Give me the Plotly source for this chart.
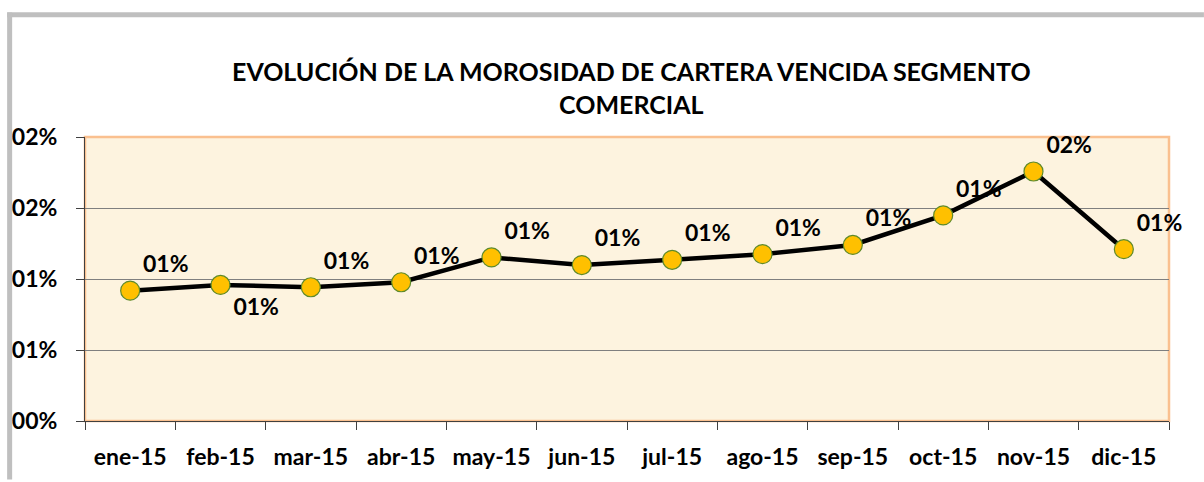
import plotly.graph_objects as go

months = ["ene-15", "feb-15", "mar-15", "abr-15", "may-15", "jun-15",
          "jul-15", "ago-15", "sep-15", "oct-15", "nov-15", "dic-15"]
morosidad = [0.00918, 0.00958, 0.00942, 0.00977, 0.01152, 0.01098,
             0.01135, 0.01175, 0.01240, 0.01448, 0.01757, 0.01210]
label_pos = ["top right", "bottom right", "top right", "top right", "top right", "top right",
             "top right", "top right", "top right", "top right", "top right", "top right"]
y_tickvals = [0, 0.005, 0.01, 0.015, 0.02]
y_ticktext = ["00%", "01%", "01%", "02%", "02%"]
title_text = "EVOLUCIÓN DE LA MOROSIDAD DE CARTERA VENCIDA SEGMENTO<br>COMERCIAL"

labels = [f"{int(v * 100 + 0.5):02d}%" for v in morosidad]

FONT = "Lato"
W, H = 1204, 482
L, R, T, B = 83, 35, 137, 59
pw, ph = W - L - R, H - T - B

def px_x(p):
    return (p - L) / pw

def px_y(p):
    return (H - B - p) / ph

fig = go.Figure()
fig.add_trace(go.Scatter(
    x=months, y=morosidad,
    mode="lines+markers+text",
    line=dict(color="black", width=4.5),
    marker=dict(size=19, color="#FFC000", line=dict(color="#5E8A2A", width=1.2)),
    text=labels, textposition=label_pos,
    textfont=dict(family=FONT, size=23, color="black", weight="bold"),
    cliponaxis=False,
    showlegend=False,
    hoverinfo="skip",
))

frame = dict(color="#BFBFBF", width=5)
fig.update_layout(
    width=W, height=H,
    margin=dict(l=L, r=R, t=T, b=B),
    paper_bgcolor="white",
    plot_bgcolor="#FDF3DF",
    font=dict(family=FONT, color="black"),
    xaxis=dict(
        type="category", tickson="boundaries", ticks="outside", ticklen=8,
        tickcolor="#404040", showline=True, linecolor="#404040", linewidth=1,
        showgrid=False, tickfont=dict(family=FONT, size=23, weight="bold"),
        ticklabelstandoff=15,
        range=[-0.5, 11.5],
    ),
    yaxis=dict(
        range=[0, 0.02], tickvals=y_tickvals, ticktext=y_ticktext,
        ticks="outside", ticklen=8, tickcolor="#404040",
        showline=True, linecolor="#404040", linewidth=1,
        showgrid=True, gridcolor="#7F7F7F", gridwidth=1, zeroline=False,
        tickfont=dict(family=FONT, size=23, weight="bold"),
        ticklabelstandoff=14,
    ),
    shapes=[
        dict(type="rect", xref="paper", yref="paper", x0=0, x1=1, y0=0, y1=1,
             line=dict(color="#FAC08F", width=2.5), layer="below"),
        dict(type="line", xref="paper", yref="paper",
             x0=px_x(5), x1=px_x(1204), y0=px_y(14), y1=px_y(14), line=frame),
        dict(type="line", xref="paper", yref="paper",
             x0=px_x(7.5), x1=px_x(7.5), y0=px_y(11.5), y1=px_y(482), line=frame),
    ],
    annotations=[
        dict(text=title_text, xref="paper", yref="paper",
             x=px_x(631), y=px_y(87), xanchor="center", yanchor="middle",
             showarrow=False, align="center",
             font=dict(family=FONT, size=25, weight="bold", color="black")),
    ],
)

fig.write_html("out.html",
               config={"displayModeBar": False},
               post_script="document.body.style.margin='0';document.body.style.overflow='hidden';")
